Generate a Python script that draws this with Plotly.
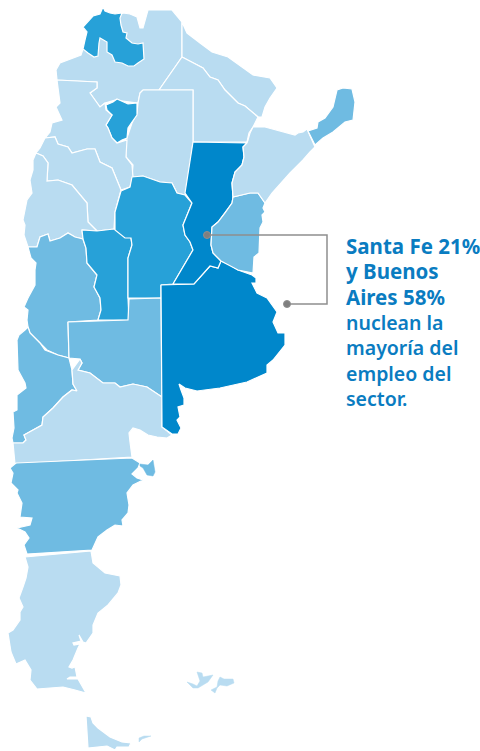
import plotly.graph_objects as go

LIGHT = "#b9dcf1"
MID = "#6fbbe2"
STRONG = "#27a1d8"
DEEP = "#0087cb"
TEXT = "#0a7cc1"

salta = [(123,13),(130,14),(137,17),(140,28),(143,28),(148,10),(172,10),(182,22),(182,57),(159,90),(143,90),(140,93),(138,103),(115,100),(105,103),(100,107),(90,93),(97,88),(97,82),(57,80),(56,70),(60,63),(81,55),(83,49),(93,33),(110,20)]
jujuy = [(103,7),(105,11),(110,13),(115,14),(122,13),(120,18),(121,25),(123,32),(127,33),(126,38),(132,43),(138,44),(143,43),(144,59),(138,63),(134,66),(128,66),(122,63),(115,62),(112,55),(107,52),(107,42),(100,38),(99,43),(98,56),(94,57),(88,53),(83,49),(85,40),(87,32),(83,27),(87,23),(93,16),(100,14)]
formosa = [(182,22),(187,33),(200,43),(212,52),(228,57),(242,67),(253,75),(270,78),(277,88),(270,98),(265,107),(262,117),(258,117),(245,106),(238,103),(225,90),(218,80),(210,77),(203,68),(182,57)]
chaco = [(182,57),(159,90),(193,90),(193,142),(247,142),(249,133),(253,127),(258,117),(245,106),(238,103),(225,90),(218,80),(210,77),(203,68)]
santiago = [(143,90),(193,90),(193,142),(187,193),(185,195),(177,193),(172,183),(160,182),(143,176),(132,177),(133,165),(126,157),(125,140),(127,138),(132,123),(137,113),(138,103),(140,93)]
tucuman = [(106,105),(113,102),(117,99),(122,101),(128,104),(137,103),(137,115),(132,122),(128,128),(127,138),(122,140),(117,143),(112,138),(108,128),(106,125),(112,115),(107,110)]
catamarca = [(57,80),(97,82),(97,88),(90,93),(100,107),(105,103),(106,110),(112,115),(106,125),(108,128),(112,138),(117,143),(127,140),(126,157),(132,165),(133,177),(130,187),(121,190),(112,168),(100,162),(95,149),(87,149),(72,153),(68,147),(58,144),(55,137),(45,138),(50,132),(52,123),(62,120),(56,107),(60,103)]
la_rioja = [(45,138),(55,137),(58,144),(68,147),(72,153),(87,149),(95,149),(100,162),(112,168),(121,190),(115,212),(114,229),(97,231),(88,222),(87,203),(72,185),(58,180),(47,181),(48,163),(43,156),(36,153),(40,148)]
san_juan = [(36,153),(43,156),(48,163),(47,181),(58,180),(72,185),(87,203),(88,222),(97,231),(82,230),(83,239),(75,237),(68,233),(60,238),(50,241),(48,234),(40,237),(37,247),(28,247),(24,235),(25,225),(23,220),(27,200),(32,193),(30,180),(33,170),(33,160)]
cordoba = [(121,191),(130,187),(132,177),(143,176),(160,182),(172,183),(177,193),(185,195),(192,203),(183,225),(185,235),(190,242),(193,250),(173,284),(161,285),(161,298),(128,298),(128,258),(132,245),(131,238),(125,238),(115,230),(115,212)]
san_luis = [(82,230),(97,231),(114,229),(125,233),(131,238),(132,245),(128,258),(128,298),(129,320),(98,320),(101,310),(100,298),(94,287),(97,275),(87,263),(86,248),(83,239)]
mendoza = [(28,247),(37,247),(40,237),(48,234),(50,241),(60,238),(68,233),(75,237),(83,239),(86,248),(87,263),(97,275),(94,287),(100,298),(101,310),(98,320),(68,322),(69,358),(58,355),(47,350),(40,343),(30,333),(28,327),(27,320),(28,310),(24,307),(28,298),(35,285),(35,270),(36,263),(31,258)]
la_pampa = [(68,322),(128,320),(129,299),(161,298),(162,397),(147,387),(133,384),(120,387),(115,383),(103,383),(90,373),(78,370),(82,363),(80,359),(69,358)]
neuquen = [(28,327),(30,333),(40,343),(45,350),(58,355),(69,358),(72,370),(73,384),(77,391),(72,390),(63,397),(53,408),(43,417),(42,425),(24,435),(26,440),(23,443),(13,443),(12,438),(14,428),(13,412),(17,410),(17,395),(26,388),(25,383),(18,370),(17,340),(19,335),(25,330)]
rio_negro = [(80,359),(82,363),(78,370),(90,373),(103,383),(115,383),(120,387),(133,384),(147,387),(162,397),(162,427),(170,433),(172,435),(167,438),(157,437),(148,435),(140,430),(133,428),(129,433),(130,442),(132,457),(15,464),(14,455),(13,443),(23,443),(26,440),(24,435),(42,425),(43,417),(53,408),(63,397),(72,390),(77,391),(73,384),(72,370)]
buenos_aires = [(161,285),(194,284),(210,266),(218,268),(221,261),(230,265),(238,270),(252,275),(256,278),(256,283),(252,283),(257,293),(267,298),(277,312),(273,322),(278,333),(285,333),(285,345),(273,360),(267,365),(267,373),(247,382),(220,388),(197,391),(185,388),(179,384),(181,390),(184,398),(184,405),(178,407),(180,417),(177,420),(181,428),(178,434),(172,434),(162,427)]
santa_fe = [(193,142),(247,143),(243,147),(244,157),(242,165),(235,172),(232,183),(233,197),(232,203),(225,213),(218,222),(212,227),(211,245),(213,253),(221,261),(218,268),(210,266),(194,284),(173,284),(193,250),(190,242),(185,235),(183,225),(192,203),(185,193)]
entre_rios = [(233,197),(250,193),(258,193),(265,203),(263,208),(265,212),(262,215),(263,222),(260,228),(259,253),(254,257),(253,273),(238,270),(221,261),(213,253),(211,245),(212,227),(218,222),(225,213),(232,203)]
corrientes = [(250,133),(253,127),(265,127),(283,132),(295,135),(298,133),(303,132),(307,129),(315,147),(310,152),(303,160),(290,173),(282,182),(272,193),(265,203),(258,193),(250,193),(233,197),(232,183),(235,172),(242,165),(244,157),(243,147),(247,143),(248,140)]
misiones = [(308,131),(317,128),(318,122),(325,118),(333,107),(337,90),(343,88),(352,89),(355,102),(353,120),(345,122),(333,132),(323,138),(315,145)]
chubut = [(16,463),(132,458),(140,463),(138,468),(132,474),(137,478),(143,480),(133,485),(127,493),(129,505),(128,513),(122,520),(123,526),(115,525),(107,530),(98,537),(92,550),(27,554),(24,545),(29,538),(25,532),(17,528),(30,525),(32,518),(20,517),(22,503),(17,493),(18,490),(11,483),(13,473),(10,468)]
valdes = [(140,464),(148,465),(153,460),(155,472),(153,476),(147,475),(143,468),(140,466)]
santa_cruz = [(25,557),(91,551),(93,563),(105,573),(120,576),(121,585),(118,593),(108,605),(98,613),(93,625),(93,633),(86,643),(83,642),(79,635),(81,641),(73,643),(74,645),(80,644),(78,648),(73,660),(69,667),(72,668),(75,667),(77,677),(70,677),(67,679),(78,679),(86,693),(75,690),(63,687),(37,689),(30,680),(31,670),(25,660),(16,664),(11,652),(8,633),(13,630),(20,620),(20,612),(23,607),(19,598),(23,587),(26,578),(28,567)]
tierra_fuego = [(86,716),(91,717),(93,723),(98,728),(110,737),(122,742),(131,743),(129,747),(117,747),(115,750),(107,746),(88,748)]
isla_estados = [(139,738),(144,736),(151,736),(142,739),(139,742)]
malvinas_a = [(197,672),(202,673),(203,677),(213,675),(208,682),(198,688),(193,688),(187,682),(193,684),(197,686),(200,681)]
malvinas_b = [(220,677),(224,679),(233,679),(234,683),(227,686),(220,685),(217,688),(215,693),(211,690),(217,687),(218,681)]

provinces = [
    ("Salta", salta, LIGHT), ("Jujuy", jujuy, STRONG), ("Formosa", formosa, LIGHT),
    ("Chaco", chaco, LIGHT), ("Santiago del Estero", santiago, LIGHT), ("Tucumán", tucuman, STRONG),
    ("Catamarca", catamarca, LIGHT), ("La Rioja", la_rioja, LIGHT), ("San Juan", san_juan, LIGHT),
    ("Mendoza", mendoza, MID), ("San Luis", san_luis, STRONG), ("Córdoba", cordoba, STRONG),
    ("La Pampa", la_pampa, MID), ("Neuquén", neuquen, MID), ("Río Negro", rio_negro, LIGHT),
    ("Buenos Aires", buenos_aires, DEEP), ("Santa Fe", santa_fe, DEEP), ("Entre Ríos", entre_rios, MID),
    ("Corrientes", corrientes, LIGHT), ("Misiones", misiones, MID), ("Chubut", chubut, MID),
    ("Santa Cruz", santa_cruz, LIGHT), ("Tierra del Fuego", tierra_fuego, LIGHT),
]
islands = [("Península Valdés", valdes, MID), ("Isla de los Estados", isla_estados, LIGHT),
           ("Malvinas", malvinas_a, LIGHT), ("Malvinas", malvinas_b, LIGHT)]

callout_x = [207, 327, 327, 287]
callout_y = [235, 235, 304, 304]
callout_sizes = [7, 0, 0, 7]

bold_lines = ["Santa Fe 21%", "y Buenos", "Aires 58%"]
plain_lines = ["nuclean la", "mayoría del", "empleo del", "sector."]

fig = go.Figure()
for name, poly, color in provinces:
    xs = [p[0] for p in poly] + [poly[0][0]]
    ys = [p[1] for p in poly] + [poly[0][1]]
    fig.add_trace(go.Scatter(x=xs, y=ys, mode="lines", fill="toself", fillcolor=color,
                             line=dict(color="white", width=1.2), name=name, hoverinfo="name"))
for name, poly, color in islands:
    xs = [p[0] for p in poly] + [poly[0][0]]
    ys = [p[1] for p in poly] + [poly[0][1]]
    fig.add_trace(go.Scatter(x=xs, y=ys, mode="lines", fill="toself", fillcolor=color,
                             line=dict(color=color, width=0.5), name=name, hoverinfo="name"))

fig.add_trace(go.Scatter(x=callout_x, y=callout_y, mode="lines+markers",
                         line=dict(color="#8f8f8f", width=1.5),
                         marker=dict(color="#7f7f7f", size=callout_sizes, opacity=1),
                         hoverinfo="skip"))

label = "<br>".join(['<b style="font-size:20.5px">%s</b>' % s for s in bold_lines] + plain_lines)
fig.add_annotation(x=344, y=321.5, text=label, showarrow=False, xanchor="left", yanchor="middle",
                   align="left", font=dict(family="Noto Sans", size=19.5, color=TEXT, weight=600))

fig.update_xaxes(range=[0, 480], visible=False, fixedrange=True)
fig.update_yaxes(range=[751, 0], visible=False, fixedrange=True)
fig.update_layout(width=480, height=751, margin=dict(l=0, r=0, t=0, b=0), showlegend=False,
                  paper_bgcolor="white", plot_bgcolor="white")
fig.write_html("out.html", config={"displayModeBar": False},
               post_script="document.body.style.margin='0';document.body.style.overflow='hidden';")
